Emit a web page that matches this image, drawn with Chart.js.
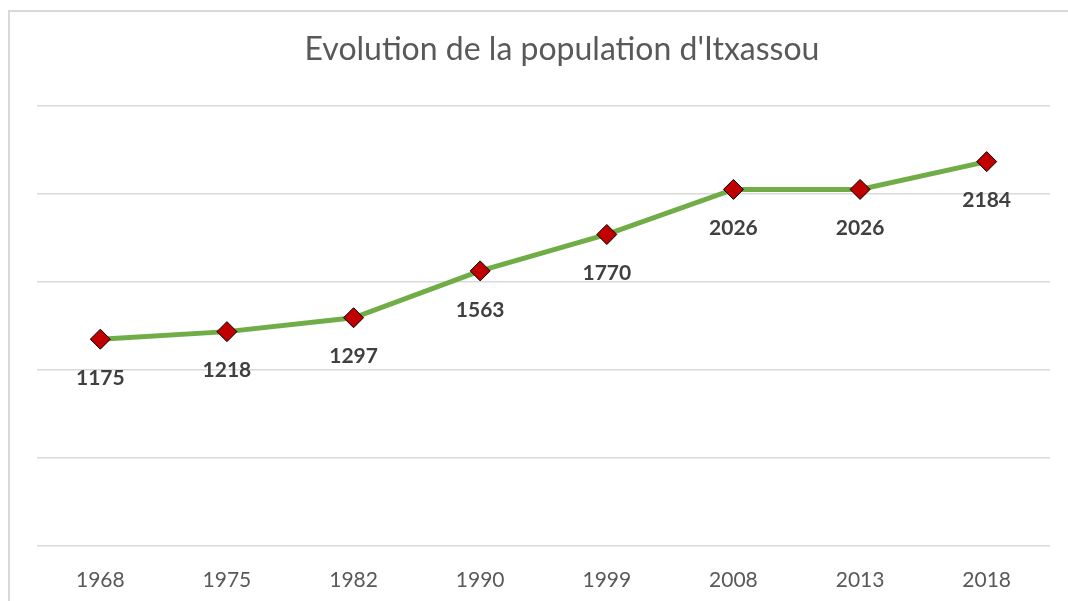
<script src="https://cdn.jsdelivr.net/npm/chart.js@4/dist/chart.umd.min.js"></script>
<body style="margin:0;background:#fff">
<style>
    .frame {
        position: absolute;
        left: 8px;
        top: 10px;
        width: 1200px;
        height: 700px;
        border-left: 2px solid #d9d9d9;
        border-top: 2px solid #d9d9d9;
    }
    .chart-wrapper {
        position: absolute;
        left: 0;
        top: 0;
        width: 1068px;
        height: 601px;
    }
</style>
<div class="frame"></div>
<div class="chart-wrapper"><canvas id="chart1" width="1068" height="601"></canvas></div>

<script>
    // values
    years = ["1968", "1975", "1982", "1990", "1999", "2008", "2013", "2018"];
    population = [1175, 1218, 1297, 1563, 1770, 2026, 2026, 2184];
    yTicks = [0, 500, 1000, 1500, 2000, 2500];
    chartTitle = "Evolution de la population d'Itxassou";

    // draws the value under each point
    var valueLabels = {
        id: "valueLabels",
        afterDatasetsDraw: function(chart) {
            var ctx = chart.ctx;
            var meta = chart.getDatasetMeta(0);
            ctx.save();
            ctx.font = "bold 21px Lato, 'Open Sans', sans-serif";
            ctx.fillStyle = "#404040";
            ctx.textAlign = "center";
            ctx.textBaseline = "middle";
            meta.data.forEach(function(pt, i) {
                ctx.fillText(String(chart.data.datasets[0].data[i]), pt.x, pt.y + 39);
            });
            ctx.restore();
        }
    };

    // title centred on the whole frame (the frame runs past the right edge)
    var frameTitle = {
        id: "frameTitle",
        afterDraw: function(chart) {
            var ctx = chart.ctx;
            ctx.save();
            ctx.font = "32px Lato, 'Open Sans', sans-serif";
            ctx.fillStyle = "#595959";
            ctx.textAlign = "center";
            ctx.textBaseline = "middle";
            ctx.fillText(chartTitle, 562, 50);
            ctx.restore();
        }
    };

    var chrt = document.getElementById("chart1").getContext("2d");
    var chartId = new Chart(chrt, {
        type: "line",
        data: {
            labels: years,
            datasets: [{
                label: "Population",
                data: population,
                borderColor: "#70ad47",
                borderWidth: 5,
                tension: 0,
                pointStyle: "rectRot",
                pointRadius: 10,
                pointHoverRadius: 10,
                pointBackgroundColor: "#c00000",
                pointBorderColor: "#000000",
                pointBorderWidth: 1
            }]
        },
        options: {
            responsive: false,
            animation: false,
            layout: {
                padding: { left: 37, right: 18, top: 106, bottom: 0 }
            },
            plugins: {
                legend: { display: false },
                tooltip: { enabled: false },
                title: { display: false }
            },
            scales: {
                x: {
                    offset: true,
                    grid: { display: false },
                    border: { display: false },
                    ticks: {
                        color: "#595959",
                        font: { family: "Lato, 'Open Sans', sans-serif", size: 21 },
                        padding: 14
                    },
                    afterFit: function(scale) { scale.height = 55; }
                },
                y: {
                    min: 0,
                    max: 2500,
                    afterBuildTicks: function(scale) {
                        scale.ticks = yTicks.map(function(v) { return { value: v }; });
                    },
                    grid: { color: "#d9d9d9", lineWidth: 1.5, drawTicks: false },
                    border: { display: false },
                    ticks: { display: false },
                    afterFit: function(scale) { scale.width = 0; }
                }
            }
        },
        plugins: [valueLabels, frameTitle]
    });
</script>
</body>
